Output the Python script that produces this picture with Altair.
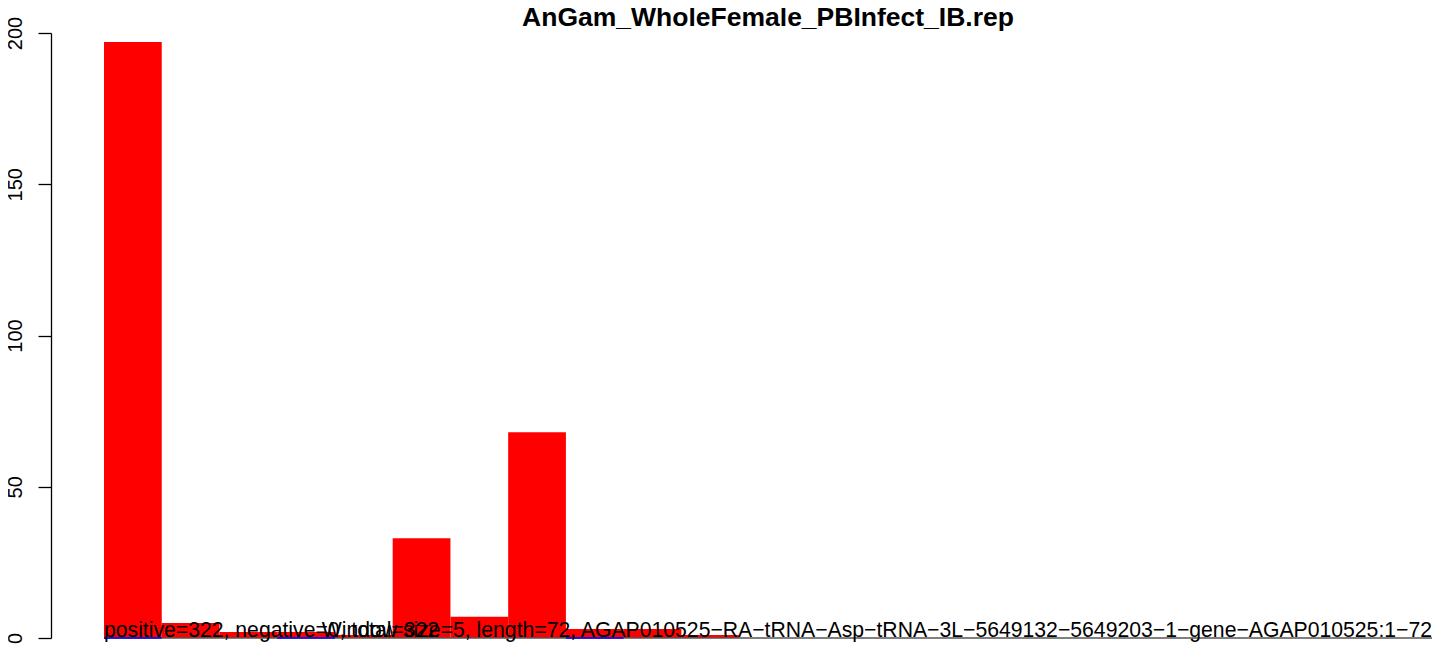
import altair as alt
import pandas as pd

# ---- data ----
window_start = [0, 1, 2, 3, 4, 5, 6, 7, 8, 9, 10]
positive_counts = [197, 5, 2, 2, 1, 33, 7, 68, 3, 3, 1]
negative_windows = [0, 3, 8]          # zero-height negative-strand bars (blue)
x_extent = [0, 23]
y_ticks = [0, 50, 100, 150, 200]
title_text = "AnGam_WholeFemale_PBInfect_IB.rep"
stats_text = "positive=322, negative=0, total=322"
info_text = ("Window size=5, length=72, AGAP010525\u2212RA\u2212tRNA\u2212Asp\u2212tRNA\u22123L"
             "\u22125649132\u22125649203\u22121\u2212gene\u2212AGAP010525:1\u221272")

W, H = 1328, 605
FONT = "Liberation Sans"

bars_df = pd.DataFrame({
    "start": window_start,
    "end": [s + 1 for s in window_start],
    "count": positive_counts,
})
neg_df = pd.DataFrame({
    "start": negative_windows,
    "end": [s + 1 for s in negative_windows],
    "count": [0] * len(negative_windows),
})
line_df = pd.DataFrame({"start": [x_extent[0]], "end": [x_extent[1]], "count": [0]})

xs = alt.Scale(domain=x_extent, nice=False, zero=False)
ys = alt.Scale(domain=[0, 200], nice=False)

yaxis = alt.Axis(
    values=y_ticks, title=None, grid=False, offset=53, tickSize=13,
    labelAngle=270, labelAlign="center", labelBaseline="alphabetic",
    labelPadding=17, labelFont=FONT, labelFontSize=20, labelColor="black",
    domainColor="black", tickColor="black", domainWidth=1.3, tickWidth=1.3,
    labelFlush=False, labelOverlap=False,
)

bars = alt.Chart(bars_df).mark_rect(color="#FF0000").encode(
    x=alt.X("start:Q", scale=xs, axis=None),
    x2="end:Q",
    y=alt.Y("count:Q", scale=ys, axis=yaxis),
    y2=alt.datum(0),
)

grey_line = alt.Chart(line_df).mark_rule(color="#555555", strokeWidth=1.3).encode(
    x=alt.X("start:Q", scale=xs, axis=None),
    x2="end:Q",
    y=alt.Y("count:Q", scale=ys, axis=yaxis),
)

blue_lines = alt.Chart(neg_df).mark_rule(color="#0000FF", strokeWidth=1.5).encode(
    x=alt.X("start:Q", scale=xs, axis=None),
    x2="end:Q",
    y=alt.Y("count:Q", scale=ys, axis=yaxis),
)

txt_df = pd.DataFrame({"t": [0]})
stats = alt.Chart(txt_df).mark_text(
    text=stats_text, align="left", baseline="alphabetic", font=FONT,
    fontSize=21.2, color="black",
).encode(x=alt.value(0), y=alt.value(604))

info = alt.Chart(txt_df).mark_text(
    text=info_text, align="right", baseline="alphabetic", font=FONT,
    fontSize=21.2, color="black",
).encode(x=alt.value(W), y=alt.value(604))

title = alt.Chart(txt_df).mark_text(
    text=title_text, align="center", baseline="alphabetic", font=FONT,
    fontSize=26.5, fontWeight="bold", color="black",
).encode(x=alt.value(W / 2), y=alt.value(-7))

chart = alt.layer(bars, grey_line, blue_lines, stats, info, title).properties(
    width=W, height=H, autosize="none", background="white",
    padding={"left": 96, "top": 25, "right": 0, "bottom": 8},
).configure_view(strokeWidth=0, stroke="transparent")

chart.save("out.html", embed_options={"renderer": "svg", "actions": False})
